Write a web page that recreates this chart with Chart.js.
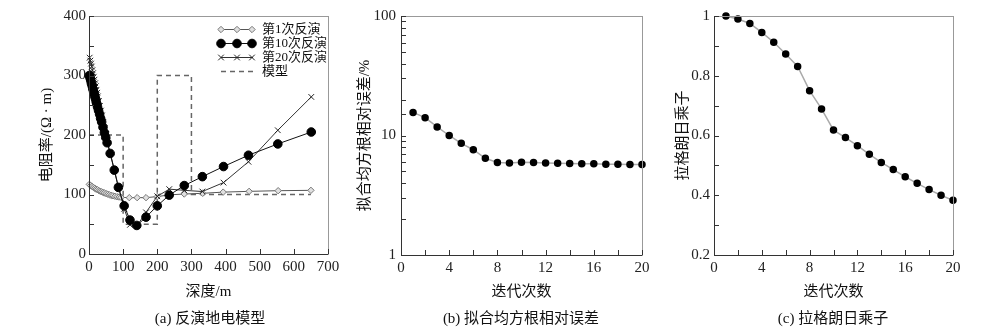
<!DOCTYPE html>
<html>
<head>
<meta charset="utf-8">
<script src="https://cdn.jsdelivr.net/npm/chart.js@4.4.0/dist/chart.umd.min.js"></script>
<style>
body { margin:0; background:#fff; width:1000px; height:335px; position:relative; overflow:hidden;
       font-family:"Liberation Serif","Noto Sans CJK SC",serif; }
canvas { position:absolute; top:0; }
.cap { position:absolute; top:308px; font-size:15px; line-height:20px; color:#111; transform:translateX(-50%); white-space:nowrap; }
</style>
</head>
<body>
<canvas id="c1" width="350" height="310" style="left:0"></canvas>
<canvas id="c2" width="333" height="310" style="left:333px"></canvas>
<canvas id="c3" width="334" height="310" style="left:666px"></canvas>
<div class="cap" style="left:210px">(a) 反演地电模型</div>
<div class="cap" style="left:521px">(b) 拟合均方根相对误差</div>
<div class="cap" style="left:833px">(c) 拉格朗日乘子</div>
<script>
// (a) 反演地电模型
const depthFirst = [1,5,9,13,17,21,25,29,33,37,41,45,50,55,60,65,70,76,82,88,94,118,141,167,200,237,279,333,393,469,554,650];
const rhoFirst = [117,115,113.5,112,110.5,109,108,106.5,105.5,104.5,103.5,102.5,101.5,100.5,99.5,98.5,97.8,97,96.3,95.7,95.2,94.7,94.7,94.7,96.5,99.5,100.8,102,104,105.3,106.4,107];
const depthTenth = [1,3,5,7,9,11,13,15,17,19,21,23,25,28,31,34,37,41,45,49,53,62,74,86,103,120,140,167,200,235,279,332,394,467,553,651];
const rhoTenth = [300,296,292,287,283,278,274,270,265,261,256,252,247,241,235,228,222,213,204,196,187,169,141,112,81,57,48,62,81,99,115,130,147,166,185,205];
const depthTwentieth = [2,4,6,8,10,12,14,16,18,20,22,24,26,29,32,35,38,42,46,50,54,62,74,86,103,120,140,167,200,235,279,332,394,467,553,651];
const rhoTwentieth = [330,325,320,315,309,304,298,293,287,282,276,271,265,257,249,241,233,222,212,201,190,170,142,113,76,49,47,70,97,109,107,105,120,155,208,264];
const modelDepth = [0,100,100,200,200,300,300,650];
const modelRho = [200,200,50,50,300,300,100,100];
const seriesNames = ['第1次反演','第10次反演','第20次反演','模型'];

// (b)(c)
const iterations = [1,2,3,4,5,6,7,8,9,10,11,12,13,14,15,16,17,18,19,20];
const rmsError = [15.6,14.1,11.8,10,8.6,7.6,6.45,5.94,5.9,5.98,5.94,5.9,5.87,5.83,5.8,5.8,5.76,5.76,5.72,5.72];
const lagrange = [1.0,0.99,0.975,0.945,0.912,0.873,0.831,0.75,0.689,0.618,0.593,0.566,0.537,0.51,0.486,0.462,0.44,0.419,0.4,0.383];

const pts = (xs, ys) => xs.map((x, i) => ({x: x, y: ys[i]}));
const tickFont = {family:'"Liberation Serif","Noto Sans CJK SC",serif', size:15};
const titleFont = {family:'"Liberation Serif","Noto Sans CJK SC",serif', size:15};

// ticks drawn inward + frame
const frame = {
  id: 'frame',
  afterDraw(chart) {
    const ctx = chart.ctx, a = chart.chartArea;
    ctx.save();
    ctx.lineWidth = 1;
    ctx.strokeStyle = '#999';
    ctx.strokeRect(a.left + 0.5, a.top + 0.5, a.right - a.left, a.bottom - a.top);
    ctx.strokeStyle = '#333';
    ctx.beginPath();
    ctx.moveTo(a.left + 0.5, a.top); ctx.lineTo(a.left + 0.5, a.bottom + 0.5); ctx.lineTo(a.right, a.bottom + 0.5);
    const xs = chart.scales.x, ys = chart.scales.y;
    xs.ticks.forEach(t => {
      const p = Math.round(xs.getPixelForValue(t.value)) + 0.5;
      ctx.moveTo(p, a.bottom); ctx.lineTo(p, a.bottom - 5);
    });
    ys.ticks.forEach(t => {
      const p = Math.round(ys.getPixelForValue(t.value)) + 0.5;
      ctx.moveTo(a.left, p); ctx.lineTo(a.left + 5, p);
    });
    ctx.stroke();
    ctx.restore();
  }
};

function axisX(min, max, step, every, yw, title) {
  return {
    type: 'linear', min: min, max: max,
    grid: {display: false, drawTicks: false}, border: {display: false},
    ticks: {stepSize: step, font: tickFont, color: '#222', padding: 4, maxRotation: 0, autoSkip: false,
      callback: v => (v % every === 0 ? String(v) : '')},
    title: {display: true, text: title, font: titleFont, color: '#111', padding: {top: 0, bottom: 9}},
    afterFit: s => { s.height = yw; }
  };
}

// (a)
const c1 = document.getElementById('c1');
const aDatasets = [
  {label: seriesNames[0], order: 2, data: pts(depthFirst, rhoFirst), borderColor: '#555', borderWidth: 1,
   pointStyle: 'rectRot', pointRadius: 3.2, pointBackgroundColor: '#e0e0e0', pointBorderColor: '#777', pointBorderWidth: 1},
  {label: seriesNames[1], order: 0, data: pts(depthTenth, rhoTenth), borderColor: '#111', borderWidth: 1,
   pointStyle: 'circle', pointRadius: 4.3, pointBackgroundColor: '#000', pointBorderColor: '#000'},
  {label: seriesNames[2], order: 1, data: pts(depthTwentieth, rhoTwentieth), borderColor: '#333', borderWidth: 1,
   pointStyle: 'crossRot', pointRadius: 4, pointBorderColor: '#222', pointBorderWidth: 1},
  {label: seriesNames[3], order: 3, data: pts(modelDepth, modelRho), borderColor: '#666', borderWidth: 1.5,
   borderDash: [5, 4], pointRadius: 0}
];

const legendA = {
  id: 'legendA',
  afterDraw(chart) {
    const ctx = chart.ctx;
    const rows = [29, 43, 57, 71];
    ctx.save();
    chart.data.datasets.forEach((ds, i) => {
      const y = rows[i] + 0.5;
      ctx.strokeStyle = ds.borderColor;
      ctx.lineWidth = ds.borderWidth;
      ctx.setLineDash(ds.borderDash || []);
      ctx.beginPath(); ctx.moveTo(221, y); ctx.lineTo(253, y); ctx.stroke();
      ctx.setLineDash([]);
      if (ds.pointRadius) {
        [221, 237, 252].forEach(x => {
          ctx.fillStyle = ds.pointBackgroundColor || '#000';
          ctx.strokeStyle = ds.pointBorderColor;
          ctx.lineWidth = 1;
          Chart.helpers.drawPoint(ctx, {pointStyle: ds.pointStyle, radius: ds.pointRadius, borderWidth: 1, rotation: 0}, x, y);
        });
      }
      ctx.fillStyle = '#111';
      ctx.font = '13px "Liberation Serif","Noto Sans CJK SC",serif';
      ctx.textBaseline = 'middle';
      ctx.fillText(ds.label, 262, y);
    });
    ctx.restore();
  }
};

new Chart(c1, {
  type: 'scatter',
  data: {datasets: aDatasets.map(d => Object.assign({showLine: true, clip: false}, d))},
  options: {
    responsive: false, animation: false,
    layout: {padding: {top: 16, right: 22, bottom: 0, left: 0}},
    plugins: {legend: {display: false}, tooltip: {enabled: false}},
    scales: {
      x: axisX(0, 700, 100, 100, 56, '深度/m'),
      y: {
        type: 'linear', min: 0, max: 400,
        grid: {display: false, drawTicks: false}, border: {display: false},
        ticks: {stepSize: 50, font: tickFont, color: '#222', padding: 3,
          callback: v => (v % 100 === 0 ? String(v) : '')},
        title: {display: true, text: '电阻率/(Ω · m)', font: titleFont, color: '#111', padding: {top: 38, bottom: 0}},
        afterFit: s => { s.width = 89; }
      }
    }
  },
  plugins: [frame, legendA]
});

// (b)
new Chart(document.getElementById('c2'), {
  type: 'scatter',
  data: {datasets: [{data: pts(iterations, rmsError), showLine: true, clip: false,
    borderColor: '#aaa', borderWidth: 1.5, pointRadius: 3, pointBackgroundColor: '#000', pointBorderColor: '#000'}]},
  options: {
    responsive: false, animation: false,
    layout: {padding: {top: 16, right: 24, bottom: 0, left: 0}},
    plugins: {legend: {display: false}, tooltip: {enabled: false}},
    scales: {
      x: axisX(0, 20, 2, 4, 55, '迭代次数'),
      y: {
        type: 'logarithmic', min: 1, max: 100,
        grid: {display: false, drawTicks: false}, border: {display: false},
        ticks: {font: tickFont, color: '#222', padding: 5, autoSkip: false,
          callback: v => ([1, 10, 100].includes(v) ? String(v) : '')},
        title: {display: true, text: '拟合均方根相对误差/%', font: titleFont, color: '#111', padding: {top: 23, bottom: 0}},
        afterFit: s => { s.width = 68; }
      }
    }
  },
  plugins: [frame]
});

// (c)
new Chart(document.getElementById('c3'), {
  type: 'scatter',
  data: {datasets: [{data: pts(iterations, lagrange), showLine: true, clip: false,
    borderColor: '#aaa', borderWidth: 1.5, pointRadius: 3, pointBackgroundColor: '#000', pointBorderColor: '#000'}]},
  options: {
    responsive: false, animation: false,
    layout: {padding: {top: 16, right: 47, bottom: 0, left: 0}},
    plugins: {legend: {display: false}, tooltip: {enabled: false}},
    scales: {
      x: axisX(0, 20, 2, 4, 55, '迭代次数'),
      y: {
        type: 'linear', min: 0.2, max: 1,
        grid: {display: false, drawTicks: false}, border: {display: false},
        ticks: {stepSize: 0.1, font: tickFont, color: '#222', padding: 4,
          callback: v => {
            const k = Math.round(v * 10);
            return k % 2 === 0 ? (k === 10 ? '1' : '0.' + k) : '';
          }},
        title: {display: true, text: '拉格朗日乘子', font: titleFont, color: '#111', padding: {top: 8, bottom: 0}},
        afterFit: s => { s.width = 48; }
      }
    }
  },
  plugins: [frame]
});
</script>
</body>
</html>
